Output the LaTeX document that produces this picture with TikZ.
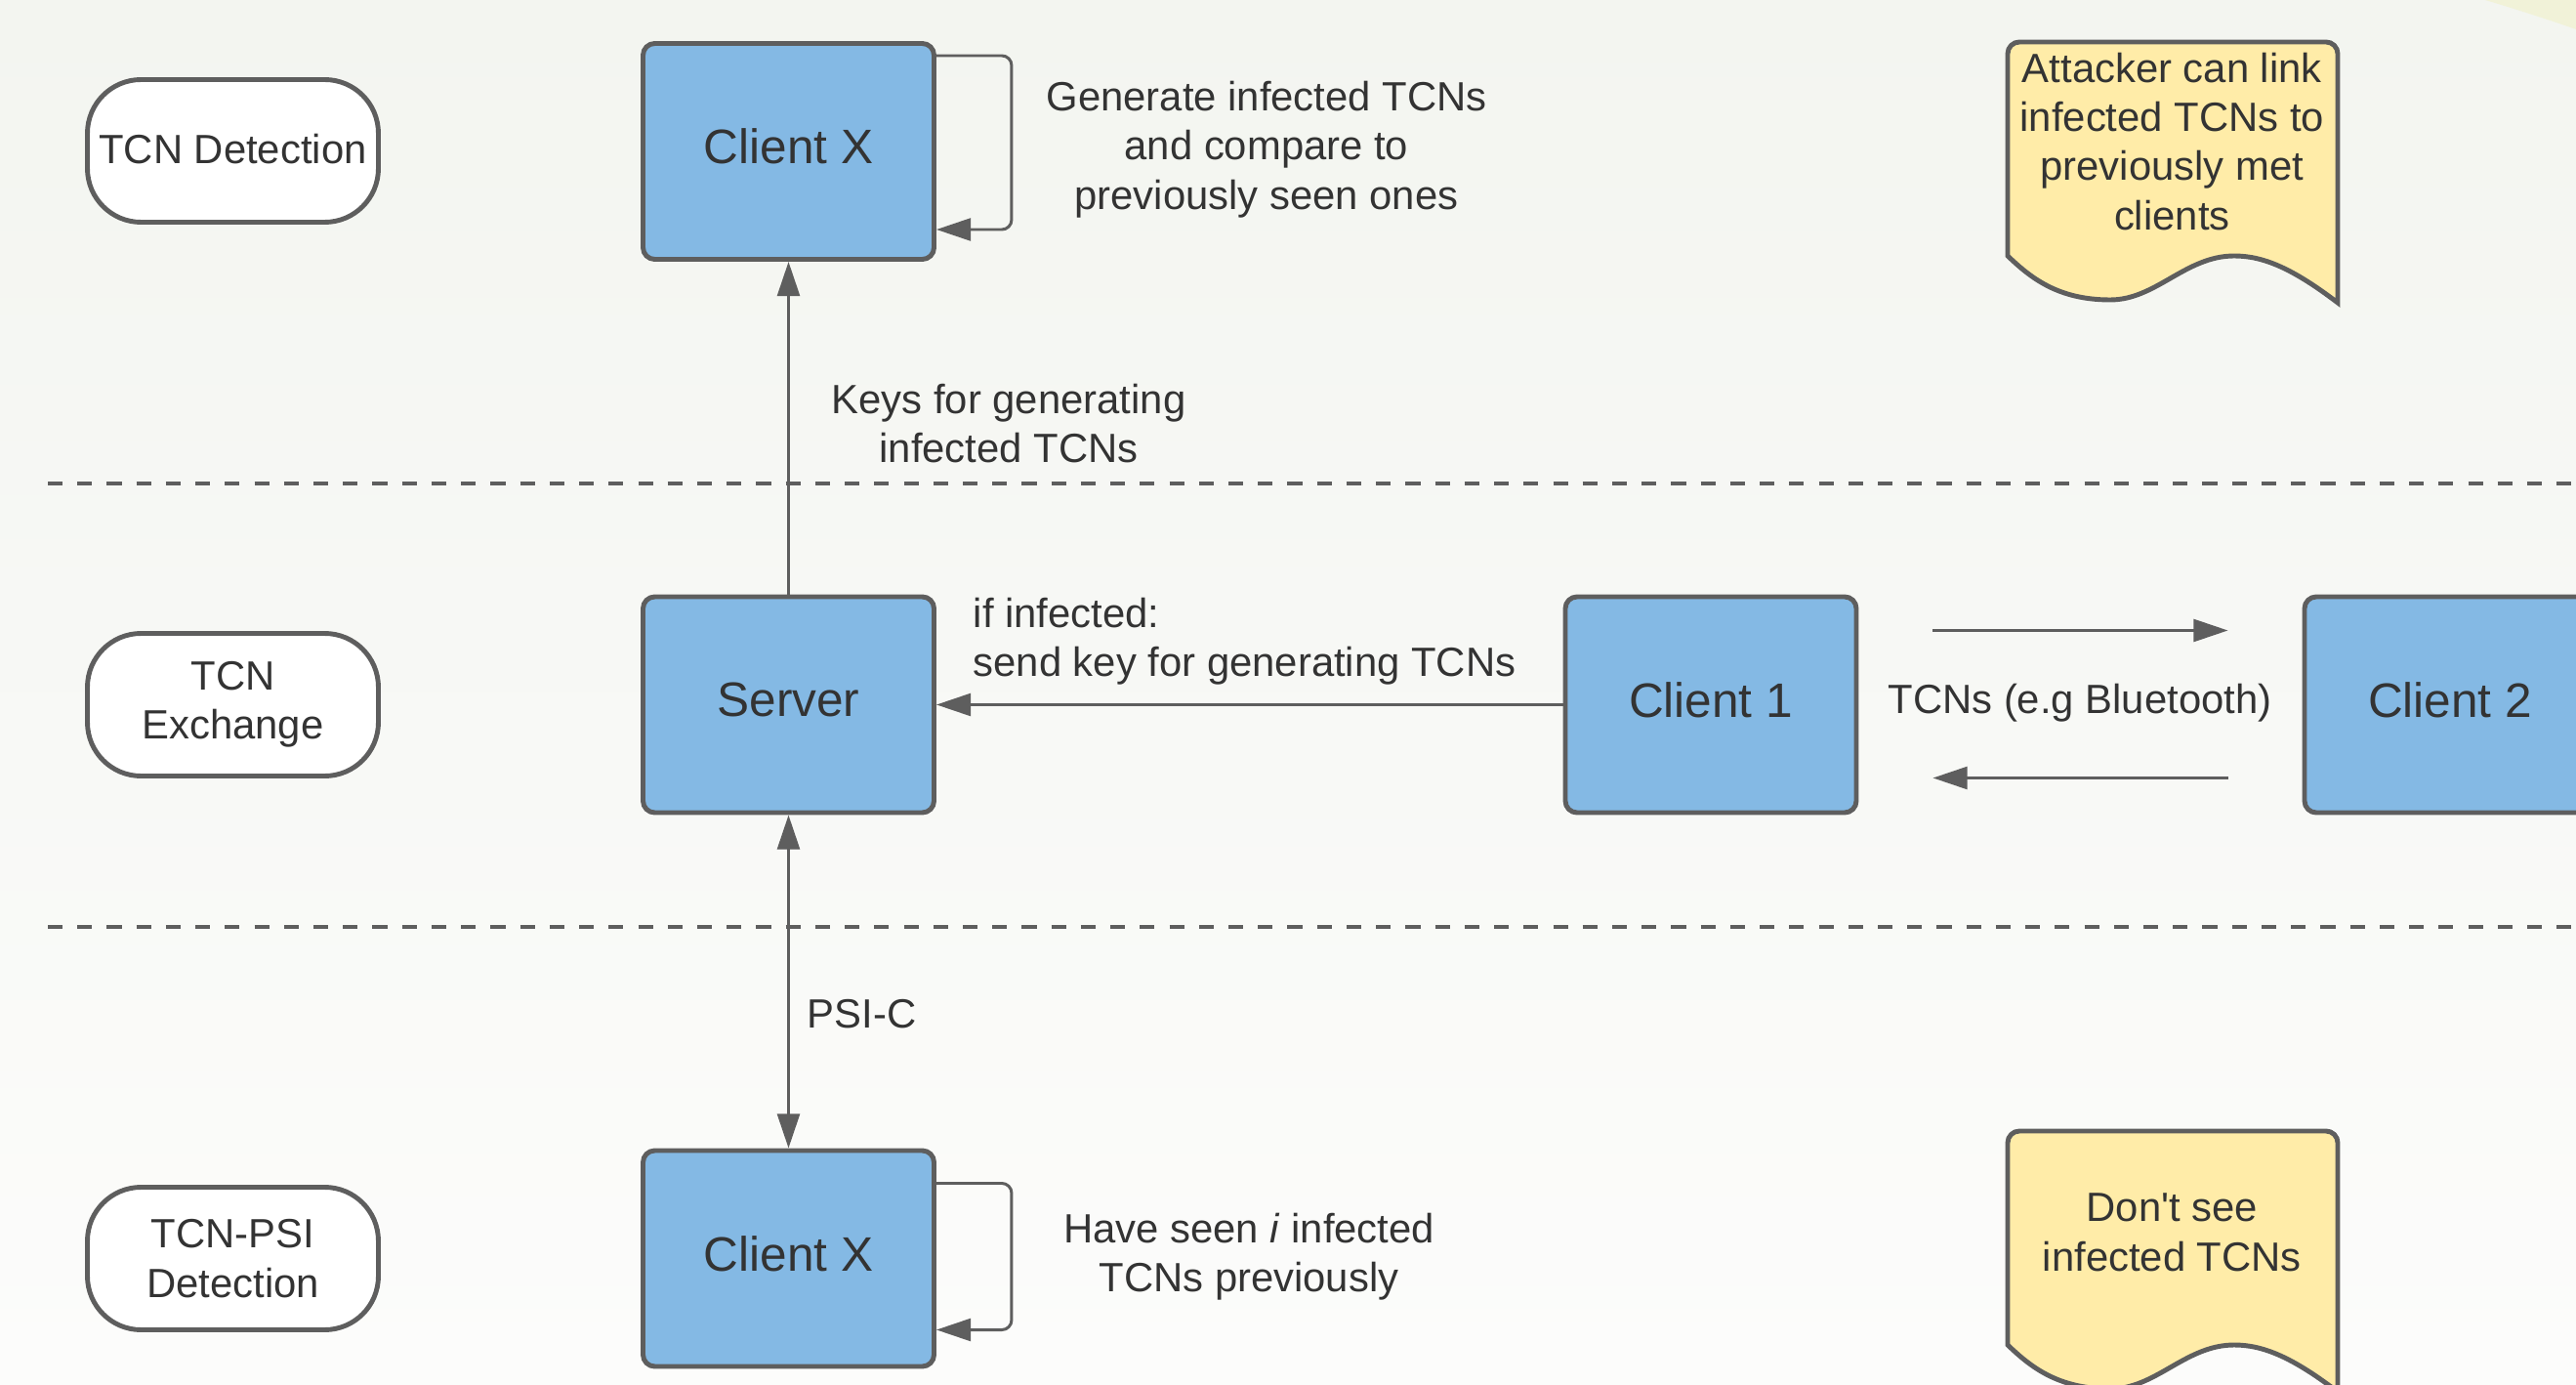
\documentclass[tikz,border=0pt]{standalone}
\usepackage{fontspec}
\setmainfont{Liberation Sans}[Ligatures=TeXOff]
\usetikzlibrary{arrows.meta}

\definecolor{linegray}{HTML}{5E5E5E}
\definecolor{txtgray}{HTML}{333333}
\definecolor{boxblue}{HTML}{84B9E4}
\definecolor{notefill}{HTML}{FFECA8}
\definecolor{bgtop}{RGB}{243,245,240}
\definecolor{bgbot}{RGB}{252,252,251}
\definecolor{swoosh}{RGB}{241,242,216}

\newcommand{\lblfont}{\fontsize{11.9}{14.3}\selectfont}
\newcommand{\boxfont}{\fontsize{14.1}{17}\selectfont}

% document shape with a wavy bottom, hung from its lower right corner
\newcommand{\wavenote}[1]{%
  \draw[noteline, shift={(#1)}] (-3.38,0) [rounded corners=0.12cm] -- (-3.38,2.19) -- (0,2.19) [sharp corners] -- (0,-0.48)
    .. controls (-0.46,-0.13) and (-0.76,0) .. (-1.06,0)
    .. controls (-1.56,0) and (-1.86,-0.45) .. (-2.33,-0.45)
    .. controls (-2.86,-0.45) and (-3.14,-0.23) .. (-3.38,0) -- cycle;}

\tikzset{
  >={Triangle[length=10pt,width=6.5pt]},
  lane/.style={draw=linegray, line width=1.4pt, fill=white, rounded corners=0.55cm,
    minimum width=2.98cm, minimum height=1.46cm, inner sep=0.05cm, align=center, font=\lblfont, text=txtgray},
  party/.style={draw=linegray, line width=1.4pt, fill=boxblue, rounded corners=0.12cm,
    minimum width=2.98cm, minimum height=2.21cm, text depth=0.1cm, font=\boxfont, text=txtgray},
  noteline/.style={draw=linegray, line width=1.4pt, fill=notefill},
  notetext/.style={anchor=south east, minimum width=3.38cm, minimum height=2.19cm, inner sep=0,
    align=center, font=\lblfont, text=txtgray},
  msg/.style={inner sep=0, align=center, font=\lblfont, text=txtgray},
  flow/.style={draw=linegray, line width=0.85pt, ->},
  lanesep/.style={draw=linegray, line width=1.3pt, dash pattern=on 4.3pt off 4.3pt},
}

\begin{document}
\begin{tikzpicture}
\useasboundingbox (0,0) rectangle (26.38,-14.18);
\clip (0,0) rectangle (26.38,-14.18);
\shade[top color=bgtop, bottom color=bgbot] (0,0) rectangle (26.38,-14.18);
\fill[swoosh] (25.45,0) .. controls (25.85,-0.12) and (26.15,-0.22) .. (26.38,-0.30) -- (26.38,0) -- cycle;

% lanes
\draw[lanesep] (0.49,-4.95) -- (26.38,-4.95);
\draw[lanesep] (0.49,-9.49) -- (26.38,-9.49);

\node[lane] (detect) at (2.385,-1.545) {\raisebox{0.05cm}{TCN Detection}};
\node[lane] (exchange) at (2.385,-7.215) {TCN\\Exchange};
\node[lane] (psidetect) at (2.385,-12.885) {TCN-PSI\\Detection};

% parties
\node[party] (clientxa) at (8.075,-1.55) {Client X};
\node[party] (server) at (8.075,-7.215) {Server};
\node[party] (clientxb) at (8.075,-12.885) {Client X};
\node[party] (client1) at (17.52,-7.215) {Client 1};
\node[party] (client2) at (25.09,-7.215) {Client 2};

% notes
\coordinate (atkcorner) at (23.94,-2.62);
\wavenote{atkcorner}
\node[notetext, yshift=0.07cm] (attack) at (atkcorner) {Attacker can link\\infected TCNs to\\previously met\\clients};
\coordinate (hidecorner) at (23.94,-13.77);
\wavenote{hidecorner}
\node[notetext, yshift=0.05cm] (hidden) at (hidecorner) {Don't see\\infected TCNs};

% messages
\draw[flow, rounded corners=0.1cm] ([yshift=0.98cm]clientxa.east) -- ++(0.77,0) |- ([yshift=-0.80cm]clientxa.east);
\node[msg] (generate) at (12.97,-1.53) {Generate infected TCNs\\and compare to\\previously seen ones};

\draw[flow] (server) -- (clientxa);
\node[msg] (keys) at (10.33,-4.335) {Keys for generating\\infected TCNs};

\draw[flow] (client1) -- (server);
\node[msg, anchor=west, align=left] (upload) at (9.96,-6.57) {if infected:\\send key for generating TCNs};

\draw[flow] ([xshift=0.76cm,yshift=0.76cm]client1.east) -- ([xshift=-0.76cm,yshift=0.76cm]client2.west);
\draw[flow] ([xshift=-0.76cm,yshift=-0.75cm]client2.west) -- ([xshift=0.76cm,yshift=-0.75cm]client1.east);
\node[msg] (bluetooth) at (21.30,-7.20) {TCNs (e.g Bluetooth)};

\draw[flow, <->] (server) -- (clientxb);
\node[msg, anchor=west] (psic) at (8.26,-10.38) {PSI-C};

\draw[flow, rounded corners=0.1cm] ([yshift=0.77cm]clientxb.east) -- ++(0.77,0) |- ([yshift=-0.73cm]clientxb.east);
\node[msg] (seen) at (12.79,-12.865) {Have seen \textit{i} infected\\TCNs previously};
\end{tikzpicture}
\end{document}
